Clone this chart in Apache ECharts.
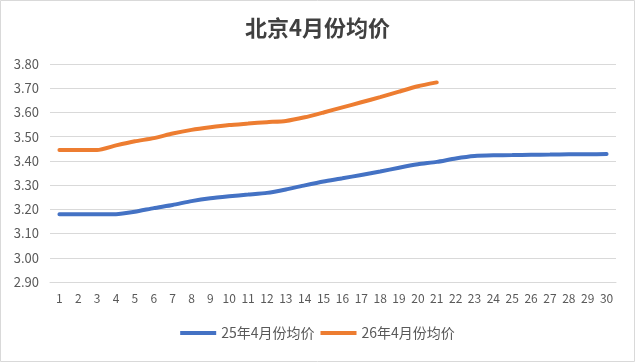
<!DOCTYPE html>
<html>
<head>
<meta charset="utf-8">
<script src="https://cdn.jsdelivr.net/npm/echarts@6/dist/echarts.min.js"></script>
<style>
html,body{margin:0;padding:0;background:#fff;}
#main{width:635px;height:362px;}
</style>
</head>
<body>
<div id="main"></div>
<script>
const titleText = '北京4月份均价';
const days = Array.from({length: 30}, (_, i) => String(i + 1));
const seriesNames = ['25年4月份均价', '26年4月份均价'];
const price25 = [3.18,3.18,3.18,3.18,3.19,3.205,3.218,3.234,3.246,3.254,3.261,3.268,3.282,3.299,3.315,3.328,3.342,3.356,3.372,3.386,3.396,3.41,3.42,3.423,3.424,3.425,3.426,3.427,3.427,3.428];
const price26 = [3.445,3.445,3.445,3.464,3.481,3.494,3.513,3.528,3.539,3.548,3.554,3.56,3.565,3.58,3.6,3.621,3.642,3.663,3.686,3.708,3.724];
const yMin = 2.9, yMax = 3.8, yStep = 0.1;

const font = '"Noto Sans CJK SC", "Noto Sans", sans-serif';
const chart = echarts.init(document.getElementById('main'), null, {renderer: 'canvas'});
chart.setOption({
  animation: false,
  backgroundColor: '#fff',
  textStyle: {fontFamily: font},
  title: {
    text: titleText,
    left: 'center',
    top: 12,
    textStyle: {fontSize: 22, fontWeight: 'bold', color: '#404040', fontFamily: font}
  },
  graphic: [{
    type: 'rect',
    shape: {x: 0.5, y: 0.5, width: 634, height: 361},
    style: {fill: 'none', stroke: '#d9d9d9', lineWidth: 1},
    silent: true
  }],
  grid: {left: 50, right: 19, top: 64, bottom: 80, containLabel: false},
  legend: {
    data: seriesNames,
    bottom: 17,
    left: 'center',
    icon: 'rect',
    itemWidth: 36,
    itemHeight: 4,
    itemGap: 6,
    textStyle: {fontSize: 14, color: '#595959', fontFamily: font}
  },
  xAxis: {
    type: 'category',
    data: days,
    boundaryGap: true,
    axisLine: {lineStyle: {color: '#d9d9d9'}},
    axisTick: {show: false},
    axisLabel: {color: '#595959', fontSize: 12, margin: 10, interval: 0}
  },
  yAxis: {
    type: 'value',
    min: yMin,
    max: yMax,
    interval: yStep,
    axisLine: {show: false},
    axisTick: {show: false},
    splitLine: {lineStyle: {color: '#d9d9d9'}},
    axisLabel: {color: '#595959', fontSize: 13, margin: 11, formatter: v => v.toFixed(2)}
  },
  series: [
    {name: seriesNames[0], type: 'line', data: price25, smooth: 0.2, showSymbol: false,
     lineStyle: {width: 4, color: '#4472C4', cap: 'round'}, itemStyle: {color: '#4472C4'}},
    {name: seriesNames[1], type: 'line', data: price26, smooth: 0.2, showSymbol: false,
     lineStyle: {width: 4, color: '#ED7D31', cap: 'round'}, itemStyle: {color: '#ED7D31'}}
  ]
});
</script>
</body>
</html>
